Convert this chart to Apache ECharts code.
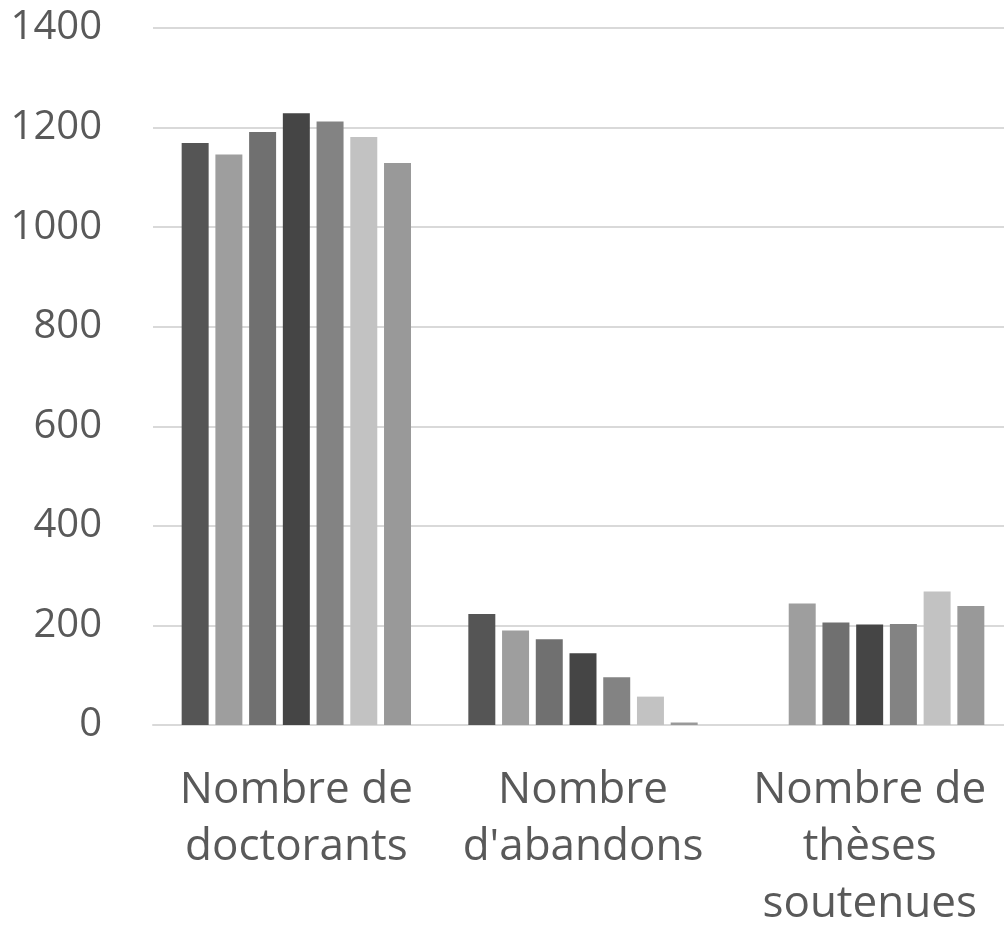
<!DOCTYPE html>
<html>
<head>
<meta charset="utf-8">
<script src="https://cdn.jsdelivr.net/npm/echarts@6/dist/echarts.min.js"></script>
<style>
  html, body { margin: 0; padding: 0; background: #fff; }
  #chart { width: 1004px; height: 943px; }
</style>
</head>
<body>
<div id="chart"></div>
<script>
const TEXT = "#595959";
const GRID = "#d9d9d9";

const categories = ["Nombre de\ndoctorants", "Nombre\nd'abandons", "Nombre de\nthèses\nsoutenues"];
const yTicks = { min: 0, max: 1400, interval: 200 };

const serie1 = [1169, 223, null];
const serie2 = [1146, 190, 244];
const serie3 = [1191, 172, 206];
const serie4 = [1229, 144, 202];
const serie5 = [1212, 96, 203];
const serie6 = [1181, 57, 268];
const serie7 = [1129, 5, 239];

const seriesData = [serie1, serie2, serie3, serie4, serie5, serie6, serie7];
const seriesColors = ["#555555", "#9e9e9e", "#707070", "#454545", "#838383", "#c2c2c2", "#999999"];

const chart = echarts.init(document.getElementById("chart"), undefined, { renderer: "canvas" });
chart.setOption({
  animation: false,
  // the original plot runs a little past the right edge of the picture
  grid: { left: 153, right: -9, top: 28, bottom: 218, outerBoundsMode: "none", containLabel: false },
  xAxis: {
    type: "category",
    data: categories,
    axisLine: { lineStyle: { color: GRID, width: 2 } },
    axisTick: { show: false },
    axisLabel: {
      color: TEXT,
      fontFamily: "Open Sans",
      fontSize: 44,
      lineHeight: 57,
      margin: 37,
      interval: 0,
    },
  },
  yAxis: {
    type: "value",
    min: yTicks.min,
    max: yTicks.max,
    interval: yTicks.interval,
    axisLine: { show: false },
    axisTick: { show: false },
    axisLabel: {
      color: TEXT,
      fontFamily: "Open Sans",
      fontSize: 40,
      margin: 51,
      formatter: (v) => String(v),
    },
    splitLine: { lineStyle: { color: GRID, width: 2 } },
  },
  series: seriesData.map((d, i) => ({
    name: "Série " + (i + 1),
    type: "bar",
    data: d,
    barGap: "25%",
    barCategoryGap: "20%",
    itemStyle: { color: seriesColors[i] },
  })),
});
</script>
</body>
</html>
